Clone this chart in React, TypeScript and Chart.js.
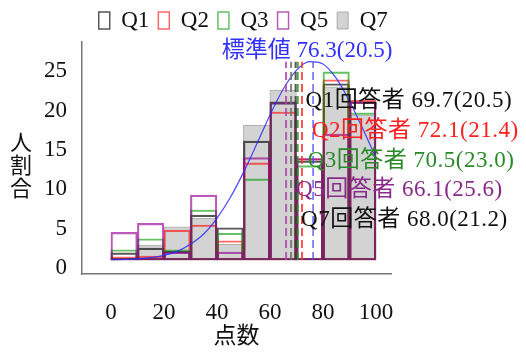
import React, { useEffect, useRef } from 'react';
import { Chart, registerables } from 'chart.js';

Chart.register(...registerables);

// ---- data ----
const binStarts = [0, 10, 20, 30, 40, 50, 60, 70, 80, 90];
const binWidth = 10;
const seriesNames = ['Q1', 'Q2', 'Q3', 'Q5', 'Q7'];
const q1 = [0.9, 1.5, 1.1, 5.7, 4.1, 15.1, 20.1, 12.6, 22.4, 20.1];
const q2 = [0.4, 0.5, 3.8, 4.45, 2.45, 12.35, 18.8, 12.9, 22.9, 20.3];
const q3 = [1.3, 2.7, 1.3, 6.35, 3.4, 10.3, 20.0, 12.0, 23.9, 18.7];
const q5 = [3.5, 4.65, 1.0, 8.25, 1.0, 13.0, 20.0, 12.9, 16.0, 20.1];
const q7 = [0.2, 1.9, 4.2, 5.3, 2.0, 17.1, 21.6, 0, 22.0, 18.4];
const means = [69.7, 72.1, 70.5, 66.1, 68.0];
const sds = [20.5, 21.4, 23.0, 25.6, 21.2];
const stdMean = 76.3;
const stdSd = 20.5;
const stdLabel = '標準値';
const answerLabel = '回答者';
const curveX = [0, 5, 10, 15, 20, 25, 30, 35, 40, 45, 50, 55, 60, 65, 70, 75, 80, 85, 90, 95, 100];
const curveY = [0.03, 0.06, 0.14, 0.29, 0.58, 1.1, 2.0, 3.3, 5.3, 7.9, 11.1, 14.7, 18.4, 21.7, 24.1, 25.2, 24.9, 23.1, 20.2, 16.7, 13.0];
const meanLineTop = 25.2;
const xTicks = [0, 20, 40, 60, 80, 100];
const yTicks = [0, 5, 10, 15, 20, 25];
const xTitle = '点数';
const yTitle = '人割合';

// ---- styles ----
const FONT = '"Liberation Serif", "Noto Sans CJK JP", serif';
const barFills = ['rgba(0,0,0,0)', 'rgba(0,0,0,0)', 'rgba(0,0,0,0)', 'rgba(0,0,0,0)', '#d3d3d3'];
const barBorders = ['rgba(30,30,30,0.75)', 'rgba(255,0,0,0.6)', 'rgba(0,150,0,0.6)', 'rgba(150,0,150,0.65)', 'rgba(165,165,165,0.9)'];
const barBorderWidths = [1.5, 1.5, 1.5, 1.5, 1];
const barOrders = [5, 4, 3, 2, 10];
const meanColors = ['rgba(60,60,60,0.85)', 'rgba(255,50,50,0.85)', 'rgba(40,150,40,0.85)', 'rgba(170,70,170,0.85)', 'rgba(110,110,110,0.85)'];
const stdColor = 'rgba(70,70,255,0.85)';
const textColors = ['#111111', '#ff2020', '#2a8a2a', '#8a2a8a', '#111111'];

const annotatePlugin = {
  id: 'annotate',
  afterDatasetsDraw(chart: any) {
    const { ctx, chartArea, scales } = chart;
    const x = scales.x;
    ctx.save();
    ctx.font = `23px ${FONT}`;
    ctx.textBaseline = 'middle';
    ctx.textAlign = 'center';
    ctx.fillStyle = '#3030ff';
    ctx.fillText(`${stdLabel} ${stdMean.toFixed(1)}(${stdSd.toFixed(1)})`, x.getPixelForValue(stdMean) - 6, chartArea.top + 9);
    ctx.textAlign = 'left';
    try { (ctx as any).letterSpacing = '0.5px'; } catch (e) { /* ignore */ }
    seriesNames.forEach((n, i) => {
      ctx.fillStyle = textColors[i];
      ctx.fillText(`${n}${answerLabel} ${means[i].toFixed(1)}(${sds[i].toFixed(1)})`, x.getPixelForValue(means[i]) + 10, chartArea.top + 59 + i * 29.8);
    });
    try { (ctx as any).letterSpacing = '0px'; } catch (e) { /* ignore */ }
    ctx.font = '22px "Noto Sans CJK JP", sans-serif';
    ctx.fillStyle = '#111111';
    ctx.textAlign = 'center';
    Array.from(yTitle).forEach((c, i) => ctx.fillText(c, 13, chartArea.top + 100 + i * 23));
    ctx.restore();
  },
};

const legendHeightPlugin = {
  id: 'legendHeight',
  beforeUpdate(chart: any) {
    const legend = chart.legend;
    if (!legend || legend.__patched) return;
    const fit = legend.fit;
    legend.fit = function () {
      fit.call(this);
      this.height = 42;
    };
    legend.__patched = true;
  },
};

export default function App() {
  const ref = useRef<HTMLCanvasElement>(null);
  useEffect(() => {
    if (!ref.current) return;
    const series = [q1, q2, q3, q5, q7];
    const barSets: any[] = series.map((vals, i) => ({
      type: 'bar',
      label: seriesNames[i],
      data: binStarts.map((s, j) => ({ x: s + binWidth / 2, y: vals[j] })),
      backgroundColor: barFills[i],
      borderColor: barBorders[i],
      borderWidth: barBorderWidths[i],
      borderSkipped: false,
      grouped: false,
      barPercentage: 1,
      categoryPercentage: 1,
      order: barOrders[i],
    }));
    const meanSets: any[] = means.map((m, i) => ({
      type: 'line',
      label: seriesNames[i] + ' mean',
      data: [{ x: m, y: 0 }, { x: m, y: meanLineTop }],
      borderColor: meanColors[i],
      borderWidth: 2,
      borderDash: [8, 4],
      pointRadius: 0,
      fill: false,
      order: 0,
    }));
    const stdLine: any = {
      type: 'line',
      label: 'std mean',
      data: [{ x: stdMean, y: 0 }, { x: stdMean, y: meanLineTop }],
      borderColor: stdColor,
      borderWidth: 1.5,
      borderDash: [8, 4],
      pointRadius: 0,
      fill: false,
      order: 0,
    };
    const curve: any = {
      type: 'line',
      label: 'normal',
      data: curveX.map((v, i) => ({ x: v, y: curveY[i] })),
      borderColor: 'rgba(40,40,255,0.85)',
      borderWidth: 1.2,
      pointRadius: 0,
      cubicInterpolationMode: 'monotone',
      fill: false,
      order: 0,
    };
    const tickFont = { family: FONT, size: 23 };
    const chart = new Chart(ref.current, {
      type: 'bar',
      data: { datasets: [...barSets, ...meanSets, stdLine, curve] },
      options: {
        responsive: false,
        animation: false,
        layout: { padding: { top: -8, right: 47.5, left: 0, bottom: 0 } },
        plugins: {
          legend: {
            display: true,
            position: 'top',
            labels: {
              filter: (item: any) => item.datasetIndex < seriesNames.length,
              sort: (a: any, b: any) => a.datasetIndex - b.datasetIndex,
              font: { family: FONT, size: 23 },
              color: '#111111',
              boxWidth: 11,
              boxHeight: 17,
              padding: 9,
            },
          },
          tooltip: { enabled: false },
        },
        scales: {
          x: {
            type: 'linear',
            min: -10.9,
            max: 105.7,
            offset: false,
            grid: { display: false, drawTicks: false },
            border: { display: true, color: '#777777', width: 1.5 },
            afterBuildTicks: (s: any) => { s.ticks = xTicks.map((v) => ({ value: v })); },
            ticks: { font: tickFont, color: '#111111', padding: 25, autoSkip: false, maxRotation: 0 },
            title: { display: true, text: xTitle, font: tickFont, color: '#111111', padding: { top: 0, bottom: -4.5 } },
            afterFit: (s: any) => { s.height = 72; },
          },
          y: {
            type: 'linear',
            min: -1.78,
            max: 27.7,
            grid: { display: false, drawTicks: false },
            border: { display: true, color: '#777777', width: 1.5 },
            afterBuildTicks: (s: any) => { s.ticks = yTicks.map((v) => ({ value: v })); },
            ticks: { font: tickFont, color: '#111111', padding: 15, labelOffset: 8 },
            afterFit: (s: any) => { s.width = 74; },
          },
          y2: {
            type: 'linear',
            position: 'right',
            display: true,
            grid: { display: false, drawTicks: false },
            border: { display: false },
            ticks: { display: false },
            afterFit: (s: any) => { s.width = 87.5; },
          },
        },
      } as any,
      plugins: [legendHeightPlugin, annotatePlugin],
    });
    return () => chart.destroy();
  }, []);
  return (
    <div style={{ width: 518, height: 338 }}>
      <canvas ref={ref} width={518} height={338} style={{ display: 'block' }} />
    </div>
  );
}
